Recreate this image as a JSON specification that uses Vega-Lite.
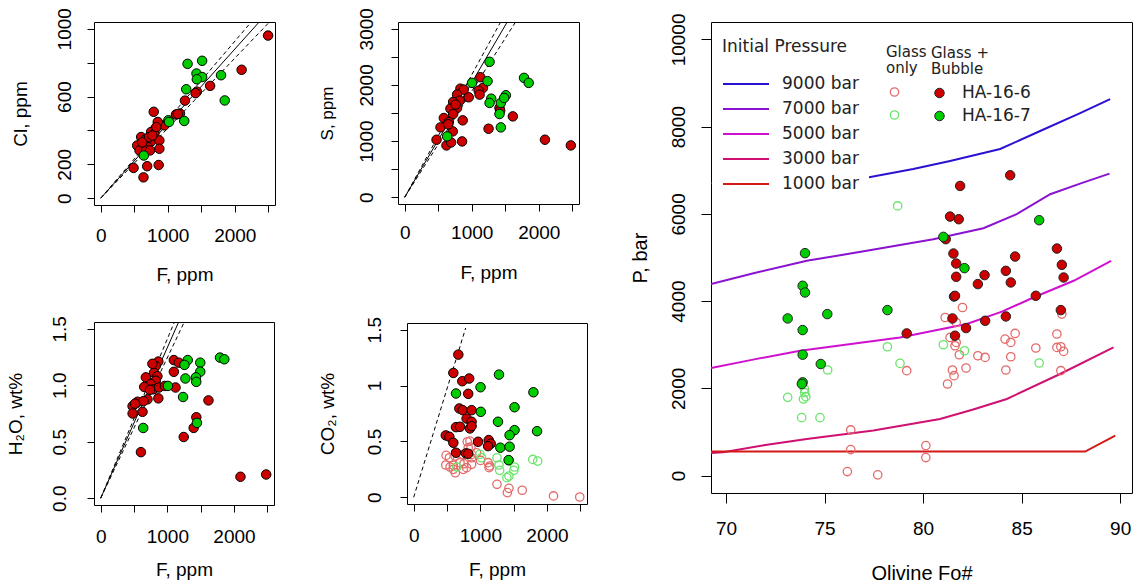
{
 "$schema": "https://vega.github.io/schema/vega-lite/v6.json",
 "background": "white",
 "padding": {"left": 5, "top": 7, "right": 2, "bottom": 0},
 "config": {
  "view": {"stroke": "black", "strokeWidth": 1},
  "axis": {"grid": false, "domain": false, "tickColor": "black", "tickWidth": 1, "tickSize": 7, "labelFont": "Liberation Sans", "labelFontSize": 19, "labelColor": "black", "labelFlush": false, "labelOverlap": false, "labelBound": false, "titleFont": "Liberation Sans", "titleFontSize": 19, "titleFontWeight": "normal", "titleColor": "black"},
  "axisY": {"labelAngle": -90, "labelAlign": "center", "labelBaseline": "alphabetic"},
  "legend": {"labelFont": "DejaVu Sans", "titleFont": "DejaVu Sans", "labelFontSize": 17, "titleFontSize": 17, "titleFontWeight": "normal", "labelColor": "#222", "titleColor": "#222"}
 },
 "datasets": {
  "cl_l": [{"F":0,"v":0,"k":"fit"},{"F":2600,"v":1144,"k":"fit"},{"F":0,"v":0,"k":"hi"},{"F":2600,"v":1204,"k":"hi"},{"F":0,"v":0,"k":"lo"},{"F":2600,"v":1074,"k":"lo"}],
  "s_l": [{"F":0,"v":0,"k":"fit"},{"F":1700,"v":3468,"k":"fit"},{"F":0,"v":0,"k":"hi"},{"F":1700,"v":3706,"k":"hi"},{"F":0,"v":0,"k":"lo"},{"F":1700,"v":3208,"k":"lo"}],
  "h_l": [{"F":0,"v":0,"k":"fit"},{"F":1300,"v":1.734,"k":"fit"},{"F":0,"v":0,"k":"hi"},{"F":1300,"v":1.833,"k":"hi"},{"F":0,"v":0,"k":"lo"},{"F":1300,"v":1.617,"k":"lo"}],
  "c_l": [{"F":0,"v":0,"k":"hi"},{"F":780,"v":1.515,"k":"hi"}],
  "cl": [
   {"F":2497,"v":960,"s":"HA-16-6"},{"F":2102,"v":758,"s":"HA-16-6"},{"F":1632,"v":663,"s":"HA-16-6"},{"F":1435,"v":629,"s":"HA-16-6"},{"F":1415,"v":620,"s":"HA-16-6"},{"F":1257,"v":576,"s":"HA-16-6"},{"F":1123,"v":494,"s":"HA-16-6"},{"F":1182,"v":500,"s":"HA-16-6"},{"F":1150,"v":497,"s":"HA-16-6"},{"F":791,"v":510,"s":"HA-16-6"},{"F":950,"v":430,"s":"HA-16-6"},{"F":851,"v":450,"s":"HA-16-6"},{"F":816,"v":411,"s":"HA-16-6"},{"F":752,"v":391,"s":"HA-16-6"},{"F":801,"v":381,"s":"HA-16-6"},{"F":603,"v":361,"s":"HA-16-6"},{"F":678,"v":351,"s":"HA-16-6"},{"F":702,"v":331,"s":"HA-16-6"},{"F":752,"v":335,"s":"HA-16-6"},{"F":875,"v":341,"s":"HA-16-6"},{"F":544,"v":311,"s":"HA-16-6"},{"F":653,"v":315,"s":"HA-16-6"},{"F":702,"v":302,"s":"HA-16-6"},{"F":579,"v":282,"s":"HA-16-6"},{"F":678,"v":282,"s":"HA-16-6"},{"F":737,"v":282,"s":"HA-16-6"},{"F":875,"v":292,"s":"HA-16-6"},{"F":490,"v":179,"s":"HA-16-6"},{"F":693,"v":189,"s":"HA-16-6"},{"F":865,"v":196,"s":"HA-16-6"},{"F":638,"v":123,"s":"HA-16-6"},{"F":830,"v":420,"s":"HA-16-6"},{"F":720,"v":360,"s":"HA-16-6"},{"F":770,"v":370,"s":"HA-16-6"},{"F":620,"v":330,"s":"HA-16-6"},
   {"F":1296,"v":793,"s":"HA-16-7"},{"F":1513,"v":811,"s":"HA-16-7"},{"F":1429,"v":736,"s":"HA-16-7"},{"F":1513,"v":715,"s":"HA-16-7"},{"F":1434,"v":702,"s":"HA-16-7"},{"F":1795,"v":726,"s":"HA-16-7"},{"F":1276,"v":643,"s":"HA-16-7"},{"F":1850,"v":577,"s":"HA-16-7"},{"F":1246,"v":456,"s":"HA-16-7"},{"F":1009,"v":460,"s":"HA-16-7"},{"F":1019,"v":450,"s":"HA-16-7"},{"F":643,"v":252,"s":"HA-16-7"}
  ],
  "s": [
   {"F":2478,"v":923,"s":"HA-16-6"},{"F":2092,"v":1024,"s":"HA-16-6"},{"F":1613,"v":1440,"s":"HA-16-6"},{"F":1414,"v":1589,"s":"HA-16-6"},{"F":1424,"v":1541,"s":"HA-16-6"},{"F":1251,"v":1220,"s":"HA-16-6"},{"F":1128,"v":2137,"s":"HA-16-6"},{"F":1167,"v":1946,"s":"HA-16-6"},{"F":1103,"v":1898,"s":"HA-16-6"},{"F":1117,"v":1827,"s":"HA-16-6"},{"F":955,"v":1780,"s":"HA-16-6"},{"F":831,"v":1934,"s":"HA-16-6"},{"F":880,"v":1916,"s":"HA-16-6"},{"F":781,"v":1827,"s":"HA-16-6"},{"F":821,"v":1720,"s":"HA-16-6"},{"F":722,"v":1696,"s":"HA-16-6"},{"F":781,"v":1589,"s":"HA-16-6"},{"F":682,"v":1577,"s":"HA-16-6"},{"F":722,"v":1482,"s":"HA-16-6"},{"F":584,"v":1411,"s":"HA-16-6"},{"F":534,"v":1244,"s":"HA-16-6"},{"F":658,"v":1339,"s":"HA-16-6"},{"F":865,"v":1369,"s":"HA-16-6"},{"F":717,"v":1173,"s":"HA-16-6"},{"F":475,"v":1024,"s":"HA-16-6"},{"F":623,"v":923,"s":"HA-16-6"},{"F":692,"v":976,"s":"HA-16-6"},{"F":856,"v":994,"s":"HA-16-6"},{"F":760,"v":1650,"s":"HA-16-6"},{"F":650,"v":1300,"s":"HA-16-6"},
   {"F":1266,"v":2411,"s":"HA-16-7"},{"F":1004,"v":2036,"s":"HA-16-7"},{"F":1236,"v":2066,"s":"HA-16-7"},{"F":1780,"v":2125,"s":"HA-16-7"},{"F":1850,"v":2036,"s":"HA-16-7"},{"F":1291,"v":1755,"s":"HA-16-7"},{"F":1266,"v":1679,"s":"HA-16-7"},{"F":1434,"v":1679,"s":"HA-16-7"},{"F":1509,"v":1816,"s":"HA-16-7"},{"F":1484,"v":1768,"s":"HA-16-7"},{"F":1414,"v":1482,"s":"HA-16-7"},{"F":1434,"v":1244,"s":"HA-16-7"},{"F":633,"v":1084,"s":"HA-16-7"}
  ],
  "h": [
   {"F":865,"v":1.21,"s":"HA-16-6"},{"F":826,"v":1.17,"s":"HA-16-6"},{"F":801,"v":1.11,"s":"HA-16-6"},{"F":851,"v":1.08,"s":"HA-16-6"},{"F":678,"v":1.07,"s":"HA-16-6"},{"F":826,"v":1.04,"s":"HA-16-6"},{"F":752,"v":1.01,"s":"HA-16-6"},{"F":653,"v":0.985,"s":"HA-16-6"},{"F":791,"v":0.964,"s":"HA-16-6"},{"F":875,"v":0.98,"s":"HA-16-6"},{"F":964,"v":0.994,"s":"HA-16-6"},{"F":1123,"v":0.98,"s":"HA-16-6"},{"F":1098,"v":1.119,"s":"HA-16-6"},{"F":1098,"v":1.223,"s":"HA-16-6"},{"F":1172,"v":1.2,"s":"HA-16-6"},{"F":865,"v":0.884,"s":"HA-16-6"},{"F":702,"v":0.875,"s":"HA-16-6"},{"F":553,"v":0.854,"s":"HA-16-6"},{"F":643,"v":0.86,"s":"HA-16-6"},{"F":479,"v":0.815,"s":"HA-16-6"},{"F":515,"v":0.837,"s":"HA-16-6"},{"F":628,"v":0.765,"s":"HA-16-6"},{"F":479,"v":0.75,"s":"HA-16-6"},{"F":604,"v":0.408,"s":"HA-16-6"},{"F":1617,"v":0.866,"s":"HA-16-6"},{"F":1435,"v":0.717,"s":"HA-16-6"},{"F":1395,"v":0.622,"s":"HA-16-6"},{"F":1246,"v":0.542,"s":"HA-16-6"},{"F":2483,"v":0.21,"s":"HA-16-6"},{"F":2097,"v":0.19,"s":"HA-16-6"},{"F":776,"v":1.19,"s":"HA-16-6"},{"F":740,"v":0.96,"s":"HA-16-6"},
   {"F":1009,"v":0.994,"s":"HA-16-7"},{"F":1306,"v":1.223,"s":"HA-16-7"},{"F":1257,"v":1.18,"s":"HA-16-7"},{"F":1494,"v":1.2,"s":"HA-16-7"},{"F":1494,"v":1.12,"s":"HA-16-7"},{"F":1429,"v":1.07,"s":"HA-16-7"},{"F":1434,"v":1.03,"s":"HA-16-7"},{"F":1271,"v":1.06,"s":"HA-16-7"},{"F":1236,"v":0.896,"s":"HA-16-7"},{"F":1444,"v":0.667,"s":"HA-16-7"},{"F":638,"v":0.622,"s":"HA-16-7"},{"F":1790,"v":1.245,"s":"HA-16-7"},{"F":1855,"v":1.23,"s":"HA-16-7"}
  ],
  "c": [
   {"F":487,"v":0.375,"s":"HA-16-6","t":"hollow"},{"F":621,"v":0.369,"s":"HA-16-6","t":"hollow"},{"F":744,"v":0.384,"s":"HA-16-6","t":"hollow"},{"F":869,"v":0.384,"s":"HA-16-6","t":"hollow"},{"F":482,"v":0.289,"s":"HA-16-6","t":"hollow"},{"F":546,"v":0.271,"s":"HA-16-6","t":"hollow"},{"F":595,"v":0.25,"s":"HA-16-6","t":"hollow"},{"F":744,"v":0.25,"s":"HA-16-6","t":"hollow"},{"F":794,"v":0.265,"s":"HA-16-6","t":"hollow"},{"F":869,"v":0.295,"s":"HA-16-6","t":"hollow"},{"F":869,"v":0.354,"s":"HA-16-6","t":"hollow"},{"F":804,"v":0.497,"s":"HA-16-6","t":"hollow"},{"F":844,"v":0.503,"s":"HA-16-6","t":"hollow"},{"F":859,"v":0.449,"s":"HA-16-6","t":"hollow"},{"F":943,"v":0.399,"s":"HA-16-6","t":"hollow"},{"F":1003,"v":0.33,"s":"HA-16-6","t":"hollow"},{"F":1116,"v":0.31,"s":"HA-16-6","t":"hollow"},{"F":1141,"v":0.28,"s":"HA-16-6","t":"hollow"},{"F":1131,"v":0.265,"s":"HA-16-6","t":"hollow"},{"F":1250,"v":0.116,"s":"HA-16-6","t":"hollow"},{"F":1405,"v":0.042,"s":"HA-16-6","t":"hollow"},{"F":1429,"v":0.08,"s":"HA-16-6","t":"hollow"},{"F":1628,"v":0.063,"s":"HA-16-6","t":"hollow"},{"F":2098,"v":0.012,"s":"HA-16-6","t":"hollow"},{"F":2491,"v":0.003,"s":"HA-16-6","t":"hollow"},{"F":818,"v":0.444,"s":"HA-16-6","t":"hollow"},{"F":695,"v":0.31,"s":"HA-16-6","t":"hollow"},{"F":595,"v":0.286,"s":"HA-16-6","t":"hollow"},{"F":754,"v":0.3,"s":"HA-16-6","t":"hollow"},{"F":536,"v":0.354,"s":"HA-16-6","t":"hollow"},{"F":625,"v":0.22,"s":"HA-16-6","t":"hollow"},
   {"F":646,"v":0.271,"s":"HA-16-7","t":"hollow"},{"F":993,"v":0.384,"s":"HA-16-7","t":"hollow"},{"F":1018,"v":0.354,"s":"HA-16-7","t":"hollow"},{"F":1250,"v":0.354,"s":"HA-16-7","t":"hollow"},{"F":1280,"v":0.289,"s":"HA-16-7","t":"hollow"},{"F":1290,"v":0.241,"s":"HA-16-7","t":"hollow"},{"F":1429,"v":0.324,"s":"HA-16-7","t":"hollow"},{"F":1513,"v":0.271,"s":"HA-16-7","t":"hollow"},{"F":1503,"v":0.241,"s":"HA-16-7","t":"hollow"},{"F":1429,"v":0.19,"s":"HA-16-7","t":"hollow"},{"F":1399,"v":0.176,"s":"HA-16-7","t":"hollow"},{"F":1786,"v":0.339,"s":"HA-16-7","t":"hollow"},{"F":1860,"v":0.324,"s":"HA-16-7","t":"hollow"},
   {"F":670,"v":1.277,"s":"HA-16-6","t":"filled"},{"F":595,"v":1.113,"s":"HA-16-6","t":"filled"},{"F":729,"v":1.039,"s":"HA-16-6","t":"filled"},{"F":833,"v":1.063,"s":"HA-16-6","t":"filled"},{"F":818,"v":0.926,"s":"HA-16-6","t":"filled"},{"F":685,"v":0.795,"s":"HA-16-6","t":"filled"},{"F":735,"v":0.78,"s":"HA-16-6","t":"filled"},{"F":869,"v":0.78,"s":"HA-16-6","t":"filled"},{"F":794,"v":0.705,"s":"HA-16-6","t":"filled"},{"F":869,"v":0.676,"s":"HA-16-6","t":"filled"},{"F":635,"v":0.628,"s":"HA-16-6","t":"filled"},{"F":695,"v":0.631,"s":"HA-16-6","t":"filled"},{"F":844,"v":0.616,"s":"HA-16-6","t":"filled"},{"F":869,"v":0.637,"s":"HA-16-6","t":"filled"},{"F":482,"v":0.554,"s":"HA-16-6","t":"filled"},{"F":536,"v":0.542,"s":"HA-16-6","t":"filled"},{"F":595,"v":0.488,"s":"HA-16-6","t":"filled"},{"F":967,"v":0.497,"s":"HA-16-6","t":"filled"},{"F":1126,"v":0.512,"s":"HA-16-6","t":"filled"},{"F":1156,"v":0.48,"s":"HA-16-6","t":"filled"},{"F":1116,"v":0.458,"s":"HA-16-6","t":"filled"},{"F":635,"v":0.399,"s":"HA-16-6","t":"filled"},{"F":784,"v":0.393,"s":"HA-16-6","t":"filled"},{"F":818,"v":0.39,"s":"HA-16-6","t":"filled"},
   {"F":1280,"v":1.098,"s":"HA-16-7","t":"filled"},{"F":1003,"v":0.985,"s":"HA-16-7","t":"filled"},{"F":635,"v":0.929,"s":"HA-16-7","t":"filled"},{"F":1796,"v":0.94,"s":"HA-16-7","t":"filled"},{"F":1007,"v":0.765,"s":"HA-16-7","t":"filled"},{"F":1513,"v":0.806,"s":"HA-16-7","t":"filled"},{"F":1265,"v":0.676,"s":"HA-16-7","t":"filled"},{"F":1513,"v":0.601,"s":"HA-16-7","t":"filled"},{"F":1851,"v":0.592,"s":"HA-16-7","t":"filled"},{"F":1439,"v":0.556,"s":"HA-16-7","t":"filled"},{"F":1300,"v":0.444,"s":"HA-16-7","t":"filled"},{"F":1439,"v":0.453,"s":"HA-16-7","t":"filled"},{"F":1424,"v":0.333,"s":"HA-16-7","t":"filled"}
  ],
  "curves": [
   {"Fo":69.24,"P":6700,"pr":"9000 bar"},{"Fo":73,"P":6760,"pr":"9000 bar"},{"Fo":77.06,"P":6824,"pr":"9000 bar"},{"Fo":79.5,"P":7030,"pr":"9000 bar"},{"Fo":81.37,"P":7213,"pr":"9000 bar"},{"Fo":83.91,"P":7488,"pr":"9000 bar"},{"Fo":85.94,"P":7900,"pr":"9000 bar"},{"Fo":87.97,"P":8312,"pr":"9000 bar"},{"Fo":89.49,"P":8633,"pr":"9000 bar"},
   {"Fo":69.24,"P":4390,"pr":"7000 bar"},{"Fo":71.5,"P":4650,"pr":"7000 bar"},{"Fo":74.1,"P":4924,"pr":"7000 bar"},{"Fo":77.14,"P":5153,"pr":"7000 bar"},{"Fo":80.52,"P":5420,"pr":"7000 bar"},{"Fo":83.06,"P":5672,"pr":"7000 bar"},{"Fo":84.75,"P":5993,"pr":"7000 bar"},{"Fo":86.45,"P":6451,"pr":"7000 bar"},{"Fo":88,"P":6700,"pr":"7000 bar"},{"Fo":89.46,"P":6923,"pr":"7000 bar"},
   {"Fo":69.24,"P":2466,"pr":"5000 bar"},{"Fo":71.5,"P":2670,"pr":"5000 bar"},{"Fo":73.76,"P":2862,"pr":"5000 bar"},{"Fo":78.83,"P":3167,"pr":"5000 bar"},{"Fo":82.22,"P":3474,"pr":"5000 bar"},{"Fo":84,"P":3760,"pr":"5000 bar"},{"Fo":85.6,"P":4083,"pr":"5000 bar"},{"Fo":87.64,"P":4466,"pr":"5000 bar"},{"Fo":89.54,"P":4923,"pr":"5000 bar"},
   {"Fo":69.24,"P":520,"pr":"3000 bar"},{"Fo":69.86,"P":534,"pr":"3000 bar"},{"Fo":72,"P":700,"pr":"3000 bar"},{"Fo":74.1,"P":840,"pr":"3000 bar"},{"Fo":77.48,"P":1031,"pr":"3000 bar"},{"Fo":80.86,"P":1298,"pr":"3000 bar"},{"Fo":82.5,"P":1510,"pr":"3000 bar"},{"Fo":84.25,"P":1756,"pr":"3000 bar"},{"Fo":86.95,"P":2329,"pr":"3000 bar"},{"Fo":89.66,"P":2938,"pr":"3000 bar"},
   {"Fo":69.24,"P":550,"pr":"1000 bar"},{"Fo":88.22,"P":550,"pr":"1000 bar"},{"Fo":89.75,"P":916,"pr":"1000 bar"}
  ],
  "pts": [
   {"Fo":82.0,"P":3854,"g":"HA-16-6 glass only"},{"Fo":81.12,"P":3625,"g":"HA-16-6 glass only"},{"Fo":81.68,"P":3511,"g":"HA-16-6 glass only"},{"Fo":81.37,"P":3167,"g":"HA-16-6 glass only"},{"Fo":81.68,"P":3053,"g":"HA-16-6 glass only"},{"Fo":81.62,"P":2977,"g":"HA-16-6 glass only"},{"Fo":81.84,"P":2771,"g":"HA-16-6 glass only"},{"Fo":81.49,"P":2420,"g":"HA-16-6 glass only"},{"Fo":81.57,"P":2290,"g":"HA-16-6 glass only"},{"Fo":81.24,"P":2100,"g":"HA-16-6 glass only"},{"Fo":79.17,"P":2405,"g":"HA-16-6 glass only"},{"Fo":82.18,"P":2466,"g":"HA-16-6 glass only"},{"Fo":82.78,"P":2748,"g":"HA-16-6 glass only"},{"Fo":83.15,"P":2709,"g":"HA-16-6 glass only"},{"Fo":84.16,"P":3130,"g":"HA-16-6 glass only"},{"Fo":84.45,"P":3053,"g":"HA-16-6 glass only"},{"Fo":84.67,"P":3259,"g":"HA-16-6 glass only"},{"Fo":84.45,"P":2725,"g":"HA-16-6 glass only"},{"Fo":84.2,"P":2420,"g":"HA-16-6 glass only"},{"Fo":85.72,"P":2924,"g":"HA-16-6 glass only"},{"Fo":86.79,"P":3245,"g":"HA-16-6 glass only"},{"Fo":86.79,"P":2938,"g":"HA-16-6 glass only"},{"Fo":86.99,"P":2954,"g":"HA-16-6 glass only"},{"Fo":87.13,"P":2847,"g":"HA-16-6 glass only"},{"Fo":86.99,"P":2405,"g":"HA-16-6 glass only"},{"Fo":87.04,"P":3702,"g":"HA-16-6 glass only"},{"Fo":76.33,"P":1046,"g":"HA-16-6 glass only"},{"Fo":76.33,"P":595,"g":"HA-16-6 glass only"},{"Fo":76.16,"P":92,"g":"HA-16-6 glass only"},{"Fo":77.7,"P":16,"g":"HA-16-6 glass only"},{"Fo":80.14,"P":687,"g":"HA-16-6 glass only"},{"Fo":80.14,"P":412,"g":"HA-16-6 glass only"},
   {"Fo":78.71,"P":6183,"g":"HA-16-7 glass only"},{"Fo":78.19,"P":2954,"g":"HA-16-7 glass only"},{"Fo":78.83,"P":2572,"g":"HA-16-7 glass only"},{"Fo":81.03,"P":3000,"g":"HA-16-7 glass only"},{"Fo":82.1,"P":2862,"g":"HA-16-7 glass only"},{"Fo":85.89,"P":2581,"g":"HA-16-7 glass only"},{"Fo":75.16,"P":2420,"g":"HA-16-7 glass only"},{"Fo":73.98,"P":1985,"g":"HA-16-7 glass only"},{"Fo":73.93,"P":1756,"g":"HA-16-7 glass only"},{"Fo":74.05,"P":1809,"g":"HA-16-7 glass only"},{"Fo":73.13,"P":1793,"g":"HA-16-7 glass only"},{"Fo":73.84,"P":1328,"g":"HA-16-7 glass only"},{"Fo":74.77,"P":1328,"g":"HA-16-7 glass only"},{"Fo":74.0,"P":1900,"g":"HA-16-7 glass only"},
   {"Fo":84.42,"P":6886,"b":"HA-16-6"},{"Fo":81.88,"P":6641,"b":"HA-16-6"},{"Fo":81.37,"P":5938,"b":"HA-16-6"},{"Fo":81.81,"P":5878,"b":"HA-16-6"},{"Fo":81.15,"P":5420,"b":"HA-16-6"},{"Fo":86.79,"P":5205,"b":"HA-16-6"},{"Fo":84.67,"P":5022,"b":"HA-16-6"},{"Fo":81.54,"P":5091,"b":"HA-16-6"},{"Fo":87.04,"P":4832,"b":"HA-16-6"},{"Fo":81.68,"P":4862,"b":"HA-16-6"},{"Fo":87.13,"P":4541,"b":"HA-16-6"},{"Fo":81.68,"P":4557,"b":"HA-16-6"},{"Fo":83.12,"P":4596,"b":"HA-16-6"},{"Fo":84.2,"P":4694,"b":"HA-16-6"},{"Fo":82.78,"P":4390,"b":"HA-16-6"},{"Fo":84.45,"P":4427,"b":"HA-16-6"},{"Fo":81.57,"P":4106,"b":"HA-16-6"},{"Fo":81.62,"P":4120,"b":"HA-16-6"},{"Fo":85.72,"P":4122,"b":"HA-16-6"},{"Fo":86.99,"P":3794,"b":"HA-16-6"},{"Fo":81.49,"P":3602,"b":"HA-16-6"},{"Fo":83.15,"P":3549,"b":"HA-16-6"},{"Fo":84.2,"P":3648,"b":"HA-16-6"},{"Fo":82.18,"P":3382,"b":"HA-16-6"},{"Fo":79.17,"P":3259,"b":"HA-16-6"},{"Fo":81.62,"P":3206,"b":"HA-16-6"},
   {"Fo":74.01,"P":5100,"b":"HA-16-7"},{"Fo":73.89,"P":4351,"b":"HA-16-7"},{"Fo":74.01,"P":4198,"b":"HA-16-7"},{"Fo":73.13,"P":3602,"b":"HA-16-7"},{"Fo":75.14,"P":3702,"b":"HA-16-7"},{"Fo":78.19,"P":3794,"b":"HA-16-7"},{"Fo":81.03,"P":5473,"b":"HA-16-7"},{"Fo":85.89,"P":5855,"b":"HA-16-7"},{"Fo":82.1,"P":4756,"b":"HA-16-7"},{"Fo":73.89,"P":3336,"b":"HA-16-7"},{"Fo":73.89,"P":2771,"b":"HA-16-7"},{"Fo":74.81,"P":2558,"b":"HA-16-7"},{"Fo":73.89,"P":2137,"b":"HA-16-7"},{"Fo":73.85,"P":2100,"b":"HA-16-7"}
  ]
 },
 "resolve": {"scale": {"color": "independent", "fill": "independent", "stroke": "independent"}},
 "spacing": 41,
 "hconcat": [
  {
   "spacing": {"row": 30, "column": 41},
   "columns": 2,
   "align": "none",
   "concat": [
      {
       "width": 181, "height": 183,
       "encoding": {
        "x": {"field": "F", "type": "quantitative", "scale": {"domain": [-100, 2600], "nice": false, "zero": false}, "axis": {"title": "F, ppm", "values": [0,500,1000,1500,2000,2500], "format": "d", "labelExpr": "datum.value % 1000 == 0 ? datum.label : ''", "labelPadding": 14, "titlePadding": 20}},
        "y": {"field": "v", "type": "quantitative", "scale": {"domain": [-40, 1040], "nice": false, "zero": false}, "axis": {"title": "Cl, ppm", "values": [0,200,400,600,800,1000], "format": "d", "labelExpr": "indexof([0,200,600,1000], datum.value) >= 0 ? datum.label : ''", "labelPadding": 17, "titlePadding": 25}}
       },
       "layer": [
        {"data": {"name": "cl_l"}, "transform": [{"filter": "datum.k == 'fit'"}], "mark": {"type": "line", "clip": true, "color": "black", "strokeWidth": 1}, "encoding": {}},
        {"data": {"name": "cl_l"}, "transform": [{"filter": "datum.k != 'fit'"}], "mark": {"type": "line", "clip": true, "color": "black", "strokeWidth": 1, "strokeDash": [4, 3]}, "encoding": {"detail": {"field": "k"}}},
        {"data": {"name": "cl"}, "mark": {"type": "circle", "size": 90, "opacity": 1, "stroke": "black", "strokeWidth": 1}, "encoding": {"fill": {"field": "s", "type": "nominal", "scale": {"domain": ["HA-16-6", "HA-16-7"], "range": ["#cd0000", "#00cd00"]}, "legend": null}}}
       ]
      },
      {
       "width": 181, "height": 182,
       "encoding": {
        "x": {"field": "F", "type": "quantitative", "scale": {"domain": [-100, 2600], "nice": false, "zero": false}, "axis": {"title": "F, ppm", "values": [0,500,1000,1500,2000,2500], "format": "d", "labelExpr": "datum.value % 1000 == 0 ? datum.label : ''", "labelPadding": 12, "titlePadding": 21}},
        "y": {"field": "v", "type": "quantitative", "scale": {"domain": [-120, 3120], "nice": false, "zero": false}, "axis": {"title": "S, ppm", "titleFontSize": 17, "values": [0,500,1000,1500,2000,2500,3000], "format": "d", "labelExpr": "datum.value % 1000 == 0 ? datum.label : ''", "labelPadding": 19, "titlePadding": 21}}
       },
       "layer": [
        {"data": {"name": "s_l"}, "transform": [{"filter": "datum.k == 'fit'"}], "mark": {"type": "line", "clip": true, "color": "black", "strokeWidth": 1}, "encoding": {}},
        {"data": {"name": "s_l"}, "transform": [{"filter": "datum.k != 'fit'"}], "mark": {"type": "line", "clip": true, "color": "black", "strokeWidth": 1, "strokeDash": [4, 3]}, "encoding": {"detail": {"field": "k"}}},
        {"data": {"name": "s"}, "mark": {"type": "circle", "size": 90, "opacity": 1, "stroke": "black", "strokeWidth": 1}, "encoding": {"fill": {"field": "s", "type": "nominal", "scale": {"domain": ["HA-16-6", "HA-16-7"], "range": ["#cd0000", "#00cd00"]}, "legend": null}}}
       ]
      },
      {
       "width": 180, "height": 183,
       "encoding": {
        "x": {"field": "F", "type": "quantitative", "scale": {"domain": [-100, 2600], "nice": false, "zero": false}, "axis": {"title": "F, ppm", "values": [0,500,1000,1500,2000,2500], "format": "d", "labelExpr": "datum.value % 1000 == 0 ? datum.label : ''", "labelPadding": 15, "titlePadding": 14}},
        "y": {"field": "v", "type": "quantitative", "scale": {"domain": [-0.06, 1.56], "nice": false, "zero": false}, "axis": {"title": "H₂O, wt%", "values": [0,0.5,1,1.5], "format": ".1f", "labelPadding": 22, "titlePadding": 25}}
       },
       "layer": [
        {"data": {"name": "h_l"}, "transform": [{"filter": "datum.k == 'fit'"}], "mark": {"type": "line", "clip": true, "color": "black", "strokeWidth": 1}, "encoding": {}},
        {"data": {"name": "h_l"}, "transform": [{"filter": "datum.k != 'fit'"}], "mark": {"type": "line", "clip": true, "color": "black", "strokeWidth": 1, "strokeDash": [4, 3]}, "encoding": {"detail": {"field": "k"}}},
        {"data": {"name": "h"}, "mark": {"type": "circle", "size": 90, "opacity": 1, "stroke": "black", "strokeWidth": 1}, "encoding": {"fill": {"field": "s", "type": "nominal", "scale": {"domain": ["HA-16-6", "HA-16-7"], "range": ["#cd0000", "#00cd00"]}, "legend": null}}}
       ]
      },
      {
       "width": 180, "height": 181,
       "encoding": {
        "x": {"field": "F", "type": "quantitative", "scale": {"domain": [-100, 2600], "nice": false, "zero": false}, "axis": {"title": "F, ppm", "values": [0,500,1000,1500,2000,2500], "format": "d", "labelExpr": "datum.value % 1000 == 0 ? datum.label : ''", "labelPadding": 15, "titlePadding": 15}},
        "y": {"field": "v", "type": "quantitative", "scale": {"domain": [-0.06, 1.56], "nice": false, "zero": false}, "axis": {"title": "CO₂, wt%", "values": [0,0.5,1,1.5], "labelExpr": "'' + datum.value", "labelPadding": 20, "titlePadding": 28}}
       },
       "layer": [
        {"data": {"name": "c_l"}, "mark": {"type": "line", "clip": true, "color": "black", "strokeWidth": 1, "strokeDash": [4, 3]}, "encoding": {}},
        {"data": {"name": "c"}, "transform": [{"filter": "datum.t == 'hollow'"}], "mark": {"type": "point", "filled": false, "size": 70, "opacity": 1, "strokeWidth": 1.3}, "encoding": {"stroke": {"field": "s", "type": "nominal", "scale": {"domain": ["HA-16-6", "HA-16-7"], "range": ["#e46a6a", "#6ae46a"]}, "legend": null}}},
        {"data": {"name": "c"}, "transform": [{"filter": "datum.t == 'filled'"}], "mark": {"type": "circle", "size": 90, "opacity": 1, "stroke": "black", "strokeWidth": 1}, "encoding": {"fill": {"field": "s", "type": "nominal", "scale": {"domain": ["HA-16-6", "HA-16-7"], "range": ["#cd0000", "#00cd00"]}, "legend": null}}}
       ]
      }
   ]
  },
  {
   "width": 421, "height": 471,
   "encoding": {
    "x": {"field": "Fo", "type": "quantitative", "scale": {"domain": [69.24, 90.6], "nice": false, "zero": false}, "axis": {"title": "Olivine Fo#", "titleFontSize": 20, "values": [70,75,80,85,90], "tickSize": 10, "labelPadding": 16, "titlePadding": 25}},
    "y": {"field": "P", "type": "quantitative", "scale": {"domain": [-400, 10400], "nice": false, "zero": false}, "axis": {"title": "P, bar", "titleFontSize": 20, "values": [0,2000,4000,6000,8000,10000], "format": "d", "tickSize": 10, "labelPadding": 17, "titlePadding": 19}}
   },
   "layer": [
    {"data": {"name": "curves"}, "mark": {"type": "line", "strokeWidth": 2, "clip": true}, "encoding": {"color": {"field": "pr", "type": "nominal", "scale": {"domain": ["9000 bar","7000 bar","5000 bar","3000 bar","1000 bar"], "range": ["#2a12d2","#8a12d0","#d010d0","#d01070","#d41818"]}, "legend": {"title": "Initial Pressure", "orient": "none", "legendX": 1, "legendY": 7, "padding": 10, "fillColor": "white", "titlePadding": 20, "symbolType": "stroke", "symbolSize": 2116, "symbolStrokeWidth": 2, "clipHeight": 16, "rowPadding": 8, "labelOffset": 12}}}},
    {"data": {"name": "pts"}, "transform": [{"filter": "datum.g != null"}], "mark": {"type": "point", "filled": false, "size": 70, "opacity": 1, "strokeWidth": 1.3}, "encoding": {"stroke": {"field": "g", "type": "nominal", "scale": {"domain": ["HA-16-6 glass only", "HA-16-7 glass only"], "range": ["#e46a6a", "#6ae46a"]}, "legend": {"title": ["Glass", "only"], "orient": "none", "legendX": 175, "legendY": 23, "padding": 0, "titleFontSize": 15, "titleLineHeight": 16, "titlePadding": 8, "labelExpr": "' '", "labelOffset": 2, "clipHeight": 16, "rowPadding": 6, "symbolSize": 70, "symbolStrokeWidth": 1.3, "symbolFillColor": "transparent"}}}},
    {"data": {"name": "pts"}, "transform": [{"filter": "datum.b != null"}], "mark": {"type": "circle", "size": 90, "opacity": 1, "stroke": "#222", "strokeWidth": 1}, "encoding": {"fill": {"field": "b", "type": "nominal", "scale": {"domain": ["HA-16-6", "HA-16-7"], "range": ["#cd0000", "#00cd00"]}, "legend": {"title": ["Glass +", "Bubble"], "orient": "none", "legendX": 220, "legendY": 24, "padding": 0, "titleFontSize": 15, "titleLineHeight": 16, "titlePadding": 8, "labelOffset": 14, "clipHeight": 16, "rowPadding": 6, "symbolSize": 90, "symbolStrokeColor": "#222", "symbolStrokeWidth": 1}}}}
   ]
  }
 ]
}
